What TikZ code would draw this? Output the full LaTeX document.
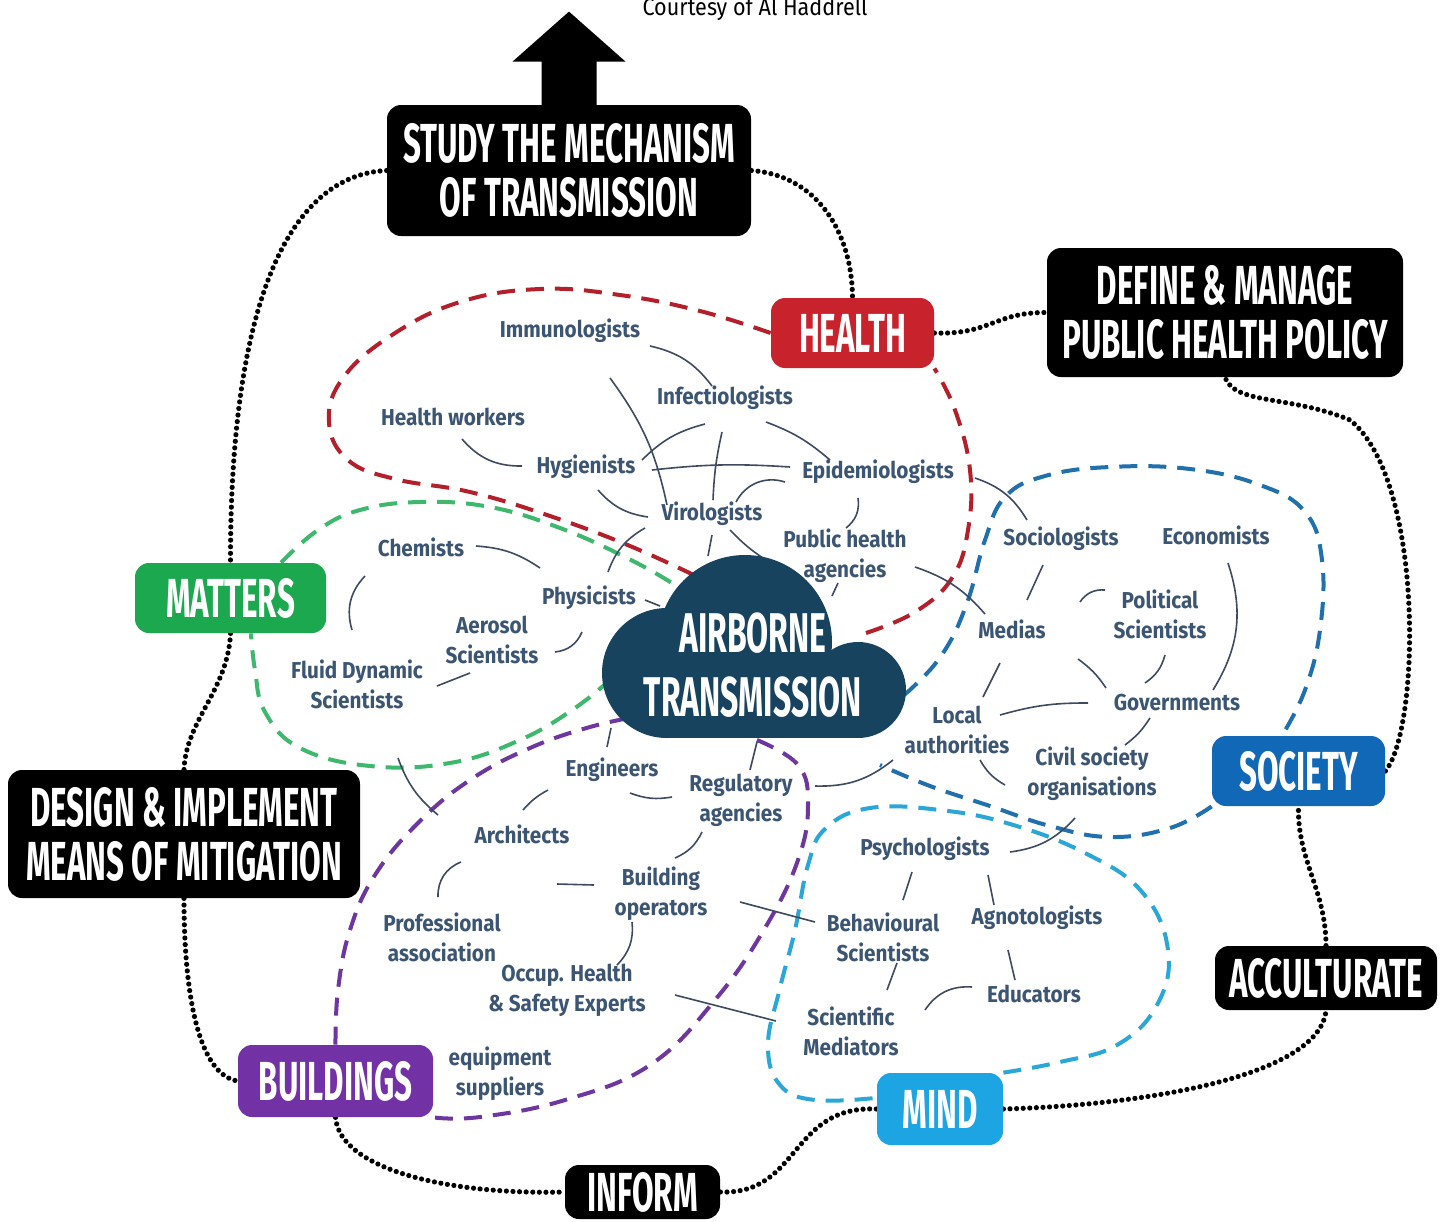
\documentclass[tikz,border=0pt]{standalone}
\usepackage{fontspec}
\usepackage{tikz}
\usetikzlibrary{calc,backgrounds}
\newfontfamily\headfont[FakeStretch=0.57]{Fira Sans}
\newfontfamily\labfont[FakeStretch=0.9]{Fira Sans}
\definecolor{healthred}{HTML}{C8232C}
\definecolor{redline}{HTML}{B3202B}
\definecolor{matgreen}{HTML}{1BA84F}
\definecolor{greenline}{HTML}{3DB86C}
\definecolor{socblue}{HTML}{1068B6}
\definecolor{blueline}{HTML}{2170AE}
\definecolor{mindblue}{HTML}{1DA4E2}
\definecolor{mindline}{HTML}{2AA7D6}
\definecolor{buildpurple}{HTML}{7232A6}
\definecolor{purpleline}{HTML}{6E37A0}
\definecolor{cloudnavy}{HTML}{17435F}
\definecolor{labtext}{HTML}{3B5573}
\definecolor{linkcol}{HTML}{3E4A60}

\begin{document}
\begin{tikzpicture}[
    x=0.5pt,y=-0.5pt,
    head/.style={fill=black,text=white,rounded corners=7pt,align=center,inner sep=0pt,
      font=\headfont\bfseries\fontsize{27.5pt}{27pt}\selectfont},
    topic/.style={head,fill=#1},
    lbl/.style={text=labtext,align=center,inner sep=1pt,
      font=\labfont\bfseries\fontsize{11.5pt}{15pt}\selectfont},
    link/.style={linkcol,line width=0.8pt},
    fence/.style={#1,line width=2pt,dash pattern=on 9pt off 5.5pt},
    trail/.style={black,line width=2.6pt,dash pattern=on 0pt off 3.3pt,line cap=round},
  ]
    \useasboundingbox (0,0) rectangle (1448,1222);

    % cloud in the middle
    \fill[cloudnavy] (745,642) circle[radius=87];
    \fill[cloudnavy] (667,673) circle[radius=65];
    \fill[cloudnavy] (858,690) circle[radius=48];
    \fill[cloudnavy] (667,650) rectangle (858,738);
    \node[text=white,align=center,inner sep=0pt,
      font=\headfont\bfseries\fontsize{28pt}{32pt}\selectfont] (cloud) at (753,665)
      {AIRBORNE\\TRANSMISSION};

    \node[font=\labfont\fontsize{12pt}{14pt}\selectfont,inner sep=0pt] (courtesy) at (755,9) {Courtesy of Al Haddrell};

    % big boxes
    \node[head,minimum width=182pt,minimum height=65.5pt] (study) at (569,170.5) {STUDY THE MECHANISM\\OF TRANSMISSION};
    \fill (study.north) ++(-27.5,5) -- ++(0,-48) -- ++(-29,0) -- ++(56.5,-50)
      -- ++(56.5,50) -- ++(-29,0) -- ++(0,48) -- cycle;
    \node[topic=healthred,minimum width=81.5pt,minimum height=35pt] (health) at (852.5,333) {HEALTH};
    \node[head,minimum width=178pt,minimum height=64.5pt] (define) at (1225,312.5) {DEFINE \& MANAGE\\PUBLIC HEALTH POLICY};
    \node[topic=matgreen,minimum width=95.5pt,minimum height=35pt] (matters) at (230.5,598) {MATTERS};
    \node[head,minimum width=176pt,minimum height=64pt] (design) at (184,834) {DESIGN \& IMPLEMENT\\MEANS OF MITIGATION};
    \node[topic=socblue,minimum width=86.5pt,minimum height=35pt] (society) at (1298.5,771) {SOCIETY};
    \node[head,minimum width=111pt,minimum height=32pt] (accult) at (1326,978) {ACCULTURATE};
    \node[topic=buildpurple,minimum width=97.5pt,minimum height=36pt] (buildings) at (335.5,1081) {BUILDINGS};
    \node[topic=mindblue,minimum width=63pt,minimum height=36pt] (mind) at (940,1109) {MIND};
    \node[head,minimum width=77.5pt,minimum height=27pt] (inform) at (642.5,1192) {INFORM};

    % health
    \node[lbl] (immuno) at (570,331) {Immunologists};
    \node[lbl] (infectio) at (725,398) {Infectiologists};
    \node[lbl] (hworkers) at (453,417) {Health workers};
    \node[lbl] (hygien) at (586,467) {Hygienists};
    \node[lbl] (epidem) at (878,472) {Epidemiologists};
    \node[lbl] (viro) at (712,514) {Virologists};
    \node[lbl] (pubhealth) at (845,556) {Public health\\agencies};
    % matters
    \node[lbl] (chem) at (421,547) {Chemists};
    \node[lbl] (phys) at (589,598) {Physicists};
    \node[lbl] (aerosol) at (492,640) {Aerosol\\Scientists};
    \node[lbl] (fluid) at (357,684) {Fluid Dynamic\\Scientists};
    % society
    \node[lbl] (socio) at (1061,539) {Sociologists};
    \node[lbl] (econ) at (1216,535) {Economists};
    \node[lbl] (medias) at (1012,629) {Medias};
    \node[lbl] (polit) at (1160,614) {Political\\Scientists};
    \node[lbl] (govts) at (1177,703) {Governments};
    \node[lbl] (localauth) at (957,730) {Local\\authorities};
    \node[lbl] (civil) at (1092,774) {Civil society\\organisations};
    % buildings
    \node[lbl] (engin) at (612,770) {Engineers};
    \node[lbl] (regul) at (741,800) {Regulatory\\agencies};
    \node[lbl] (archi) at (522,834) {Architects};
    \node[lbl] (buildop) at (661,894) {Building\\operators};
    \node[lbl] (profass) at (442,937) {Professional\\association};
    \node[lbl] (occup) at (567,990) {Occup. Health\\\& Safety Experts};
    \node[lbl] (equip) at (500,1074) {equipment\\suppliers};
    % mind
    \node[lbl] (psycho) at (925,849) {Psychologists};
    \node[lbl] (behav) at (883,937) {Behavioural\\Scientists};
    \node[lbl] (agnoto) at (1037,918) {Agnotologists};
    \node[lbl] (educ) at (1034,994) {Educators};
    \node[lbl] (scimed) at (851,1031) {Scientific\\Mediators};

    \begin{scope}[on background layer]
    \fill[white] (0,0) rectangle (1448,1222);

    % dashed group outlines
    \draw[fence=redline] plot[smooth,tension=0.7] coordinates {(health.west) (700,311) (620,295) (540,289)
      (460,302) (392,335) (343,378) (329,422) (348,460) (395,479) (470,492) (550,516) (630,546) (700,578)};
    \draw[fence=redline] plot[smooth,tension=0.7] coordinates {(866,633) (915,612) (952,578) (968,530)
      (970,470) (955,410) (health.south east)};
    \draw[fence=greenline] plot[smooth,tension=0.7] coordinates {(matters.35) (318,530) (360,510) (420,502)
      (490,507) (560,528) (625,557) (675,585) (700,605)};
    \draw[fence=greenline] plot[smooth,tension=0.7] coordinates {(612,678) (575,708) (520,740) (450,763)
      (370,766) (300,748) (265,712) (255,670) (matters.-60)};
    \draw[fence=blueline] plot[smooth,tension=0.7] coordinates {(880,712) (912,688) (945,650) (968,600)
      (985,540) (1005,497) (1045,476) (1110,467) (1190,469) (1260,485) (1305,512) (1322,560) (1320,630)
      (1305,690) (society.115)};
    \draw[fence=blueline] plot[smooth,tension=0.7] coordinates {(society.south west) (1170,828) (1110,837)
      (1050,826) (990,806) (930,786) (880,765)};
    \draw[fence=mindline] plot[smooth,tension=0.7] coordinates {(mind.north east) (1060,1062) (1117,1045)
      (1157,1005) (1168,950) (1142,892) (1085,853) (1010,824) (940,810) (870,808) (826,828) (808,865)
      (795,930) (780,988) (768,1045) (780,1085) (815,1100) (mind.170)};
    \draw[fence=purpleline] plot[smooth,tension=0.7] coordinates {(buildings.north) (338,990) (350,930)
      (375,875) (418,823) (470,780) (530,748) (590,727) (640,716)};
    \draw[fence=purpleline] plot[smooth,tension=0.7] coordinates {(757,740) (798,765) (808,805) (798,860)
      (765,928) (715,1000) (650,1065) (565,1100) (480,1117) (buildings.south east)};

    % dotted trail between the big boxes
    \draw[trail] (study.west) .. controls (290,175) and (230,300) .. (matters.north);
    \draw[trail] (matters.south) .. controls (228,690) and (186,720) .. (design.north);
    \draw[trail] (design.south) .. controls (184,1000) and (200,1075) .. (buildings.west);
    \draw[trail] (buildings.south) .. controls (340,1170) and (450,1195) .. (inform.west);
    \draw[trail] (inform.east) .. controls (800,1195) and (790,1105) .. (mind.west);
    \draw[trail] (mind.east) .. controls (1150,1105) and (1320,1075) .. (accult.south);
    \draw[trail] (accult.north) .. controls (1326,890) and (1297,860) .. (society.south);
    \draw[trail] (society.east) .. controls (1420,730) and (1425,480) .. (1350,420)
      .. controls (1290,395) and (1235,405) .. (define.south);
    \draw[trail] (health.east) .. controls (990,335) and (995,312) .. (define.west);
    \draw[trail] (study.east) .. controls (815,175) and (852,230) .. (health.north);

    % links between the actors
    \draw[link] ($(immuno.center)+(80,15)$) to[bend left=20] ($(infectio.center)+(-13,-12)$);
    \draw[link] ($(immuno.center)+(40,47)$) to[bend left=12] ($(viro.center)+(-45,-9)$);
    \draw[link] ($(infectio.center)+(-20,26)$) to[bend right=15] ($(hygien.center)+(56,-7)$);
    \draw[link] ($(infectio.center)+(-3,34)$) to[bend right=5] ($(viro.center)+(1,-14)$);
    \draw[link] ($(infectio.center)+(41,24)$) to[bend left=10] ($(epidem.center)+(-48,-12)$);
    \draw[link] ($(hworkers.center)+(9,22)$) to[bend right=25] ($(hygien.center)+(-64,-1)$);
    \draw[link] ($(hygien.center)+(66,3)$) to[bend left=5] ($(epidem.center)+(-88,-5)$);
    \draw[link] ($(hygien.center)+(12,23)$) to[bend right=20] ($(viro.center)+(-64,3)$);
    \draw[link] ($(epidem.center)+(-93,10)$) to[bend right=40] ($(viro.center)+(24,-12)$);
    \draw[link] ($(epidem.center)+(-20,26)$) to[bend left=30] ($(pubhealth.center)+(1,-28)$);
    \draw[link] ($(viro.center)+(18,16)$) to[bend right=10] ($(pubhealth.center)+(-60,14)$);
    \draw[link] ($(viro.center)+(-67,14)$) to[bend right=20] ($(phys.center)+(19,-26)$);
    \draw[link] ($(viro.center)+(0,21)$) -- ($(cloud.center)+(-45,-109)$);
    \draw[link] ($(epidem.center)+(97,6)$) to[bend left=20] ($(socio.center)+(-34,-19)$);
    \draw[link] ($(pubhealth.center)+(70,11)$) to[bend left=15] ($(medias.center)+(-27,-15)$);
    \draw[link] ($(pubhealth.center)+(-7,27)$) -- ($(cloud.center)+(79,-69)$);
    \draw[link] ($(chem.center)+(55,-1)$) to[bend left=15] ($(phys.center)+(-49,-30)$);
    \draw[link] ($(chem.center)+(-56,29)$) to[bend right=30] ($(fluid.center)+(-5,-54)$);
    \draw[link] ($(phys.center)+(56,2)$) -- ($(cloud.center)+(-93,-59)$);
    \draw[link] ($(aerosol.center)+(63,12)$) to[bend right=30] ($(phys.center)+(-7,34)$);
    \draw[link] ($(fluid.center)+(80,2)$) -- ($(aerosol.center)+(-22,33)$);
    \draw[link] ($(fluid.center)+(41,74)$) to[bend right=15] ($(archi.center)+(-84,-19)$);
    \draw[link] ($(socio.center)+(-18,26)$) -- ($(medias.center)+(15,-29)$);
    \draw[link] ($(polit.center)+(-55,-24)$) to[bend right=30] ($(medias.center)+(68,-27)$);
    \draw[link] ($(econ.center)+(12,28)$) to[bend left=25] ($(govts.center)+(36,-13)$);
    \draw[link] ($(polit.center)+(5,41)$) to[bend left=20] ($(govts.center)+(-32,-20)$);
    \draw[link] ($(medias.center)+(66,30)$) to[bend left=10] ($(govts.center)+(-71,-15)$);
    \draw[link] ($(medias.center)+(-12,34)$) -- ($(localauth.center)+(26,-33)$);
    \draw[link] ($(localauth.center)+(43,-15)$) to[bend left=8] ($(govts.center)+(-89,0)$);
    \draw[link] ($(govts.center)+(-27,15)$) to[bend left=10] ($(civil.center)+(33,-29)$);
    \draw[link] ($(localauth.center)+(23,30)$) to[bend right=15] ($(civil.center)+(-87,11)$);
    \draw[link] ($(regul.center)+(74,-14)$) to[bend right=20] ($(localauth.center)+(-64,30)$);
    \draw[link] ($(civil.center)+(-17,44)$) to[bend left=20] ($(psycho.center)+(85,3)$);
    \draw[link] ($(engin.center)+(-5,-23)$) -- ($(cloud.center)+(-142,63)$);
    \draw[link] ($(regul.center)+(9,-30)$) -- ($(cloud.center)+(4,77)$);
    \draw[link] ($(engin.center)+(-64,20)$) to[bend right=10] ($(archi.center)+(1,-24)$);
    \draw[link] ($(engin.center)+(18,23)$) to[bend right=15] ($(regul.center)+(-69,-3)$);
    \draw[link] ($(regul.center)+(-39,32)$) to[bend left=20] ($(buildop.center)+(14,-36)$);
    \draw[link] ($(archi.center)+(-61,28)$) to[bend right=35] ($(profass.center)+(-4,-40)$);
    \draw[link] ($(archi.center)+(35,50)$) -- ($(buildop.center)+(-67,-9)$);
    \draw[link] ($(buildop.center)+(-29,28)$) to[bend left=25] ($(occup.center)+(50,-25)$);
    \draw[link] ($(buildop.center)+(79,8)$) -- ($(behav.center)+(-68,-15)$);
    \draw[link] ($(occup.center)+(108,5)$) -- ($(scimed.center)+(-75,-10)$);
    \draw[link] ($(psycho.center)+(-13,23)$) -- ($(behav.center)+(20,-37)$);
    \draw[link] ($(psycho.center)+(63,26)$) -- ($(agnoto.center)+(-43,-13)$);
    \draw[link] ($(behav.center)+(14,26)$) -- ($(scimed.center)+(36,-41)$);
    \draw[link] ($(agnoto.center)+(-29,32)$) -- ($(educ.center)+(-19,-14)$);
    \draw[link] ($(educ.center)+(-62,-7)$) to[bend right=30] ($(scimed.center)+(74,-21)$);
    \end{scope}
  \end{tikzpicture}
\end{document}
